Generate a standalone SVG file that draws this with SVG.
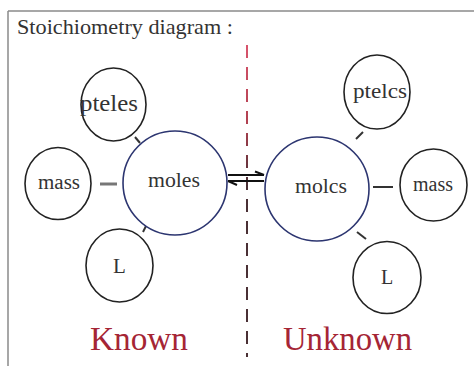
<svg xmlns="http://www.w3.org/2000/svg" width="474" height="366" viewBox="0 0 474 366">
<defs>
<style>
.frame{stroke:#8a8a8a;stroke-width:1.5;fill:none}
.small{fill:#fff;stroke:#222;stroke-width:1.6}
.big{fill:#fff;stroke:#2c3570;stroke-width:1.6}
.serif{font-family:"Liberation Serif","Tinos","Times New Roman",Times,"DejaVu Serif","Noto Serif",serif}
.lbl{fill:#333;text-anchor:middle}
.conn{stroke:#333;stroke-width:2;fill:none}
.side{fill:#a52535;text-anchor:middle}
</style>
<linearGradient id="dashg" gradientUnits="userSpaceOnUse" x1="0" y1="45" x2="0" y2="357">
<stop offset="0" stop-color="#d8546c"/>
<stop offset="0.25" stop-color="#b04050"/>
<stop offset="0.45" stop-color="#4a3035"/>
<stop offset="1" stop-color="#4a3035"/>
</linearGradient>
</defs>
<rect x="0" y="0" width="474" height="366" fill="#fff"/>
<g id="frame">
<line class="frame" x1="8" y1="11" x2="474" y2="11"/>
<line class="frame" x1="8" y1="11" x2="8" y2="366"/>
</g>
<text id="title" class="serif" x="17" y="34" font-size="21" fill="#333" textLength="216" lengthAdjust="spacingAndGlyphs">Stoichiometry diagram :</text>
<line id="divider" x1="247" y1="45" x2="247" y2="357" stroke="url(#dashg)" stroke-width="2" stroke-dasharray="13 9"/>
<g id="connectors">
<line x1="100" y1="184" x2="117" y2="184" stroke="#777" stroke-width="3"/>
<line class="conn" x1="135" y1="137" x2="140" y2="143"/>
<line class="conn" x1="146" y1="226" x2="143" y2="232"/>
<line class="conn" x1="373" y1="187" x2="393" y2="187"/>
<line class="conn" x1="363" y1="132" x2="356" y2="139"/>
<line class="conn" x1="357" y1="232" x2="366" y2="239"/>
<g id="equilibrium" stroke="#111" stroke-width="2" fill="none">
<line x1="228" y1="175" x2="264" y2="175"/>
<line x1="255" y1="171.5" x2="264" y2="175"/>
<line x1="228" y1="181" x2="264" y2="181"/>
<line x1="228" y1="181" x2="237" y2="185"/>
</g>
</g>
<g id="known-pteles">
<ellipse class="small" cx="113.5" cy="104.5" rx="32.5" ry="36.5"/>
<text class="lbl serif" x="109" y="111" font-size="23" textLength="58" lengthAdjust="spacingAndGlyphs">pteles</text>
</g>
<g id="known-mass">
<ellipse class="small" cx="58" cy="183.5" rx="33" ry="36"/>
<text class="lbl serif" x="59" y="189" font-size="20" textLength="42" lengthAdjust="spacingAndGlyphs">mass</text>
</g>
<g id="known-moles">
<circle class="big" cx="175" cy="183" r="52"/>
<text class="lbl serif" x="174" y="187" font-size="20" textLength="52" lengthAdjust="spacingAndGlyphs">moles</text>
</g>
<g id="known-L">
<ellipse class="small" cx="119.5" cy="265.5" rx="33.5" ry="36.5"/>
<text class="lbl serif" x="119.5" y="273" font-size="21">L</text>
</g>
<g id="unknown-moles">
<circle class="big" cx="317" cy="189" r="52"/>
<text class="lbl serif" x="321" y="193" font-size="20" textLength="52" lengthAdjust="spacingAndGlyphs">molcs</text>
</g>
<g id="unknown-pteles">
<ellipse class="small" cx="377" cy="92" rx="33" ry="37"/>
<text class="lbl serif" x="380" y="98" font-size="21" textLength="54" lengthAdjust="spacingAndGlyphs">ptelcs</text>
</g>
<g id="unknown-mass">
<ellipse class="small" cx="433.5" cy="185" rx="33.5" ry="36"/>
<text class="lbl serif" x="433" y="191" font-size="20" textLength="40" lengthAdjust="spacingAndGlyphs">mass</text>
</g>
<g id="unknown-L">
<ellipse class="small" cx="387" cy="277.5" rx="34" ry="36"/>
<text class="lbl serif" x="387" y="284" font-size="20">L</text>
</g>
<text id="known" class="side serif" x="139" y="350" font-size="34" textLength="98" lengthAdjust="spacingAndGlyphs">Known</text>
<text id="unknown" class="side serif" x="347.5" y="350" font-size="34" textLength="129" lengthAdjust="spacingAndGlyphs">Unknown</text>
</svg>
